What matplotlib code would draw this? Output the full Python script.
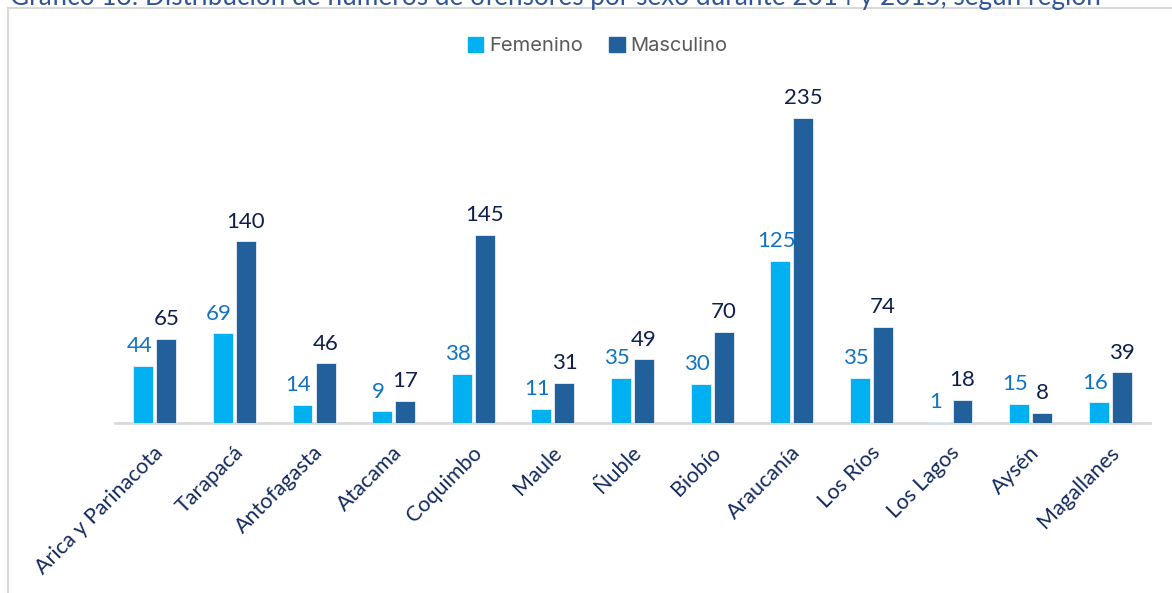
import matplotlib
matplotlib.use("Agg")
import matplotlib.pyplot as plt
from matplotlib.patches import Rectangle, Patch
import numpy as np

# Offenders by sex and region, 2014-2015
regiones = ["Arica y Parinacota", "Tarapacá", "Antofagasta", "Atacama", "Coquimbo",
            "Maule", "Ñuble", "Biobío", "Araucanía", "Los Ríos", "Los Lagos",
            "Aysén", "Magallanes"]
femenino = [44, 69, 14, 9, 38, 11, 35, 30, 125, 35, 1, 15, 16]
masculino = [65, 140, 46, 17, 145, 31, 49, 70, 235, 74, 18, 8, 39]

titulo = "Gráfico 13: Distribución de números de ofensores por sexo durante 2014 y 2015, según región"

c_fem = "#00B0F0"
c_mas = "#22609C"
c_fem_lbl = "#1273C4"
c_mas_lbl = "#0E1F4D"
c_cat = "#132A5E"

W, H = 1172, 593
fig = plt.figure(figsize=(W / 100, H / 100), dpi=100)

# outer chart frame (cut at right and bottom edges)
fig.patches.append(Rectangle((8 / W, -0.1), 1.2, 1 - 8 / H + 0.1, transform=fig.transFigure,
                             fill=False, edgecolor="#D9D9D9", linewidth=1.5))

# title, partially above the visible area
fig.text(10 / W, 1 - 5 / H, titulo, ha="left", va="baseline", fontsize=18.8,
         color="#2F5597", family="Lato")

ax = fig.add_axes([115 / W, 1 - 423 / H, 1035 / W, (423 - 80) / H])
x = np.arange(len(regiones))
w = 0.25
off = 0.145
ax.bar(x - off, femenino, w, color=c_fem, edgecolor="#E8F4FB", linewidth=0.6,
       label="Femenino", zorder=3)
ax.bar(x + off, masculino, w, color=c_mas, edgecolor="#E8F0F8", linewidth=0.6,
       label="Masculino", zorder=3)

ax.set_xlim(-0.5, len(regiones) - 0.5)
ax.set_ylim(0, (423 - 80) / 1.298)

for xi, v in zip(x, femenino):
    ax.annotate(str(v), (xi - off - 0.05, v), xytext=(0, 7), textcoords="offset points",
                ha="center", va="bottom", fontsize=16, color=c_fem_lbl, family="Lato")
for xi, v in zip(x, masculino):
    ax.annotate(str(v), (xi + off, v), xytext=(0, 7), textcoords="offset points",
                ha="center", va="bottom", fontsize=16, color=c_mas_lbl, family="Lato")

for s in ["top", "right", "left"]:
    ax.spines[s].set_visible(False)
ax.spines["bottom"].set_color("#D9D9D9")
ax.spines["bottom"].set_linewidth(2)
ax.spines["bottom"].set_zorder(2)
ax.set_yticks([])
ax.set_xticks(x - 0.02)
ax.set_xticklabels(regiones, rotation=45, ha="right", va="top", rotation_mode="anchor",
                   fontsize=15.5, color=c_cat, family="Lato")
ax.tick_params(axis="x", length=0, pad=14)

handles = [Patch(color=c_fem), Patch(color=c_mas)]
fig.legend(handles, ["Femenino", "Masculino"], loc="center", bbox_to_anchor=(598 / W, 1 - 46 / H),
           ncol=2, frameon=False, handlelength=0.75, handleheight=0.75,
           handletextpad=0.3, columnspacing=1.3, labelcolor="#595959",
           prop={"family": "Inter", "size": 14.5})

fig.savefig("out.png", dpi=100)
